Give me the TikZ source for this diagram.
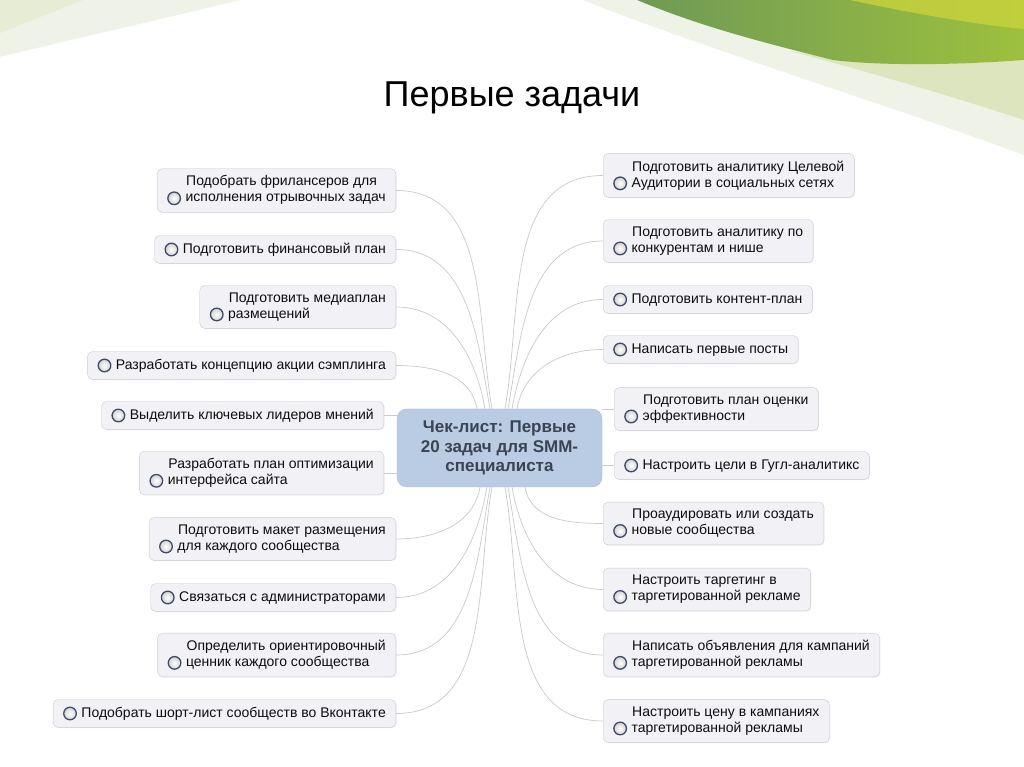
\documentclass[tikz,border=0pt]{standalone}
\usepackage{fontspec}
\setmainfont{Liberation Sans}
\usetikzlibrary{shadows}
\definecolor{boxfill}{HTML}{F2F2F6}
\definecolor{boxline}{HTML}{C9C9D2}
\definecolor{linkgray}{HTML}{CACACA}
\definecolor{chkline}{HTML}{3F4A68}
\definecolor{hubfill}{HTML}{B9CCE4}
\definecolor{hubtext}{HTML}{3A4452}
\definecolor{palegreen}{HTML}{EFF2E6}
\definecolor{lightgreen}{HTML}{DCE5BE}
\definecolor{darkleaf}{HTML}{6E9A55}
\definecolor{leaf}{HTML}{9DC03E}
\definecolor{yellowleaf}{HTML}{C9D33C}
\tikzset{
  task/.style={draw=boxline, fill=boxfill, rounded corners=5pt, align=left,
    inner xsep=10pt, inner ysep=7pt, font=\fontsize{14}{16}\selectfont, text=black!95,
    drop shadow={opacity=0.12, shadow xshift=0.8pt, shadow yshift=-0.8pt}},
  hub/.style={fill=hubfill, draw=hubfill!90!black, rounded corners=10pt, align=center,
    minimum width=205pt, minimum height=78pt, text=hubtext,
    font=\fontsize{17}{19.5}\selectfont\bfseries},
  link/.style={draw=linkgray, line width=0.7pt}
}
\newcommand{\chk}{\tikz[baseline=-0.5ex]\draw[line width=1.3pt, draw=chkline, inner color=white, outer color=gray!35] (0,0) circle (6.3pt);\hspace{4.5pt}}
\newcommand{\ind}{\hspace*{19pt}}

\begin{document}
\begin{tikzpicture}[x=1pt, y=1pt]
        \useasboundingbox (0,0) rectangle (1024,767);
        \fill[white] (0,0) rectangle (1024,767);
        % corner decoration
        \fill[palegreen] (0,767) -- (240,767) .. controls (150,745) and (60,725) .. (0,710) -- cycle;
        \fill[lightgreen!45!palegreen] (0,767) -- (83,767) -- (0,734) -- cycle;
        \fill[palegreen] (583,767) .. controls (700,720) and (880,665) .. (1024,612) -- (1024,767) -- cycle;
        \fill[lightgreen] (790,716) .. controls (870,700) and (960,702) .. (1024,707) -- (1024,647) .. controls (960,668) and (880,692) .. (790,716) -- cycle;
        \shade[left color=darkleaf, right color=leaf] (637,767) .. controls (690,745) and (740,730) .. (833,707) .. controls (880,701) and (960,702) .. (1024,707) -- (1024,767) -- cycle;
        \fill[yellowleaf, opacity=0.8] (850,767) .. controls (920,752) and (980,742) .. (1024,738) -- (1024,767) -- cycle;

        \node[font=\fontsize{36}{40}\selectfont, anchor=base] (title) at (512,660) {Первые задачи};

        \node[hub] (c) at (499.5,319) {Чек-лист: Первые\\20 задач для SMM-\\специалиста};

        \node[task, anchor=east] (l1) at (396,576.5) {\ind Подобрать фрилансеров для\\\chk исполнения отрывочных задач};
        \node[task, anchor=east] (l2) at (396,517.5) {\chk Подготовить финансовый план};
        \node[task, anchor=east] (l3) at (396,460) {\ind Подготовить медиаплан\\\chk размещений};
        \node[task, anchor=east] (l4) at (396,401.5) {\chk Разработать концепцию акции сэмплинга};
        \node[task, anchor=east] (l5) at (384,351.5) {\chk Выделить ключевых лидеров мнений};
        \node[task, anchor=east] (l6) at (384,294) {\ind Разработать план оптимизации\\\chk интерфейса сайта};
        \node[task, anchor=east] (l7) at (396,228) {\ind Подготовить макет размещения\\\chk для каждого сообщества};
        \node[task, anchor=east] (l8) at (396,169.5) {\chk Связаться с администраторами};
        \node[task, anchor=east] (l9) at (396,112) {\ind Определить ориентировочный\\\chk ценник каждого сообщества};
        \node[task, anchor=east] (l10) at (396,53.5) {\chk Подобрать шорт-лист сообществ во Вконтакте};

        \node[task, anchor=west] (r1) at (603,591.5) {\ind Подготовить аналитику Целевой\\\chk Аудитории в социальных сетях};
        \node[task, anchor=west] (r2) at (603,526) {\ind Подготовить аналитику по\\\chk конкурентам и нише};
        \node[task, anchor=west] (r3) at (603,467.5) {\chk Подготовить контент-план};
        \node[task, anchor=west] (r4) at (603,417.5) {\chk Написать первые посты};
        \node[task, anchor=west] (r5) at (614,358) {\ind Подготовить план оценки\\\chk эффективности};
        \node[task, anchor=west] (r6) at (614,301.5) {\chk Настроить цели в Гугл-аналитикс};
        \node[task, anchor=west] (r7) at (603,243.5) {\ind Проаудировать или создать\\\chk новые сообщества};
        \node[task, anchor=west] (r8) at (603,177.5) {\ind Настроить таргетинг в\\\chk таргетированной рекламе};
        \node[task, anchor=west] (r9) at (603,112) {\ind Написать объявления для кампаний\\\chk таргетированной рекламы};
        \node[task, anchor=west] (r10) at (603,46) {\ind Настроить цену в кампаниях\\\chk таргетированной рекламы};

        \foreach \n/\dx in {l1/-7.5, l2/-9.5, l3/-14.5, l4/-22.5}
          \draw[link] (\n.east) to[out=0, in=100] ([xshift=\dx]c.north);
        \foreach \n/\dx in {r1/5.5, r2/8.5, r3/12.5, r4/17.5}
          \draw[link] (\n.west) to[out=180, in=80] ([xshift=\dx]c.north);
        \foreach \n/\dx in {l7/-19.5, l8/-12.5, l9/-9.5, l10/-7.5}
          \draw[link] (\n.east) to[out=0, in=260] ([xshift=\dx]c.south);
        \foreach \n/\dx in {r7/25.5, r8/12.5, r9/8.5, r10/5.5}
          \draw[link] (\n.west) to[out=180, in=280] ([xshift=\dx]c.south);
        \draw[link] (l5.east) -- (l5.east -| c.west);
        \draw[link] (l6.east) -- (l6.east -| c.west);
        \draw[link] (r5.west) -- (r5.west -| c.east);
        \draw[link] (r6.west) -- (r6.west -| c.east);
    \end{tikzpicture}
\end{document}
